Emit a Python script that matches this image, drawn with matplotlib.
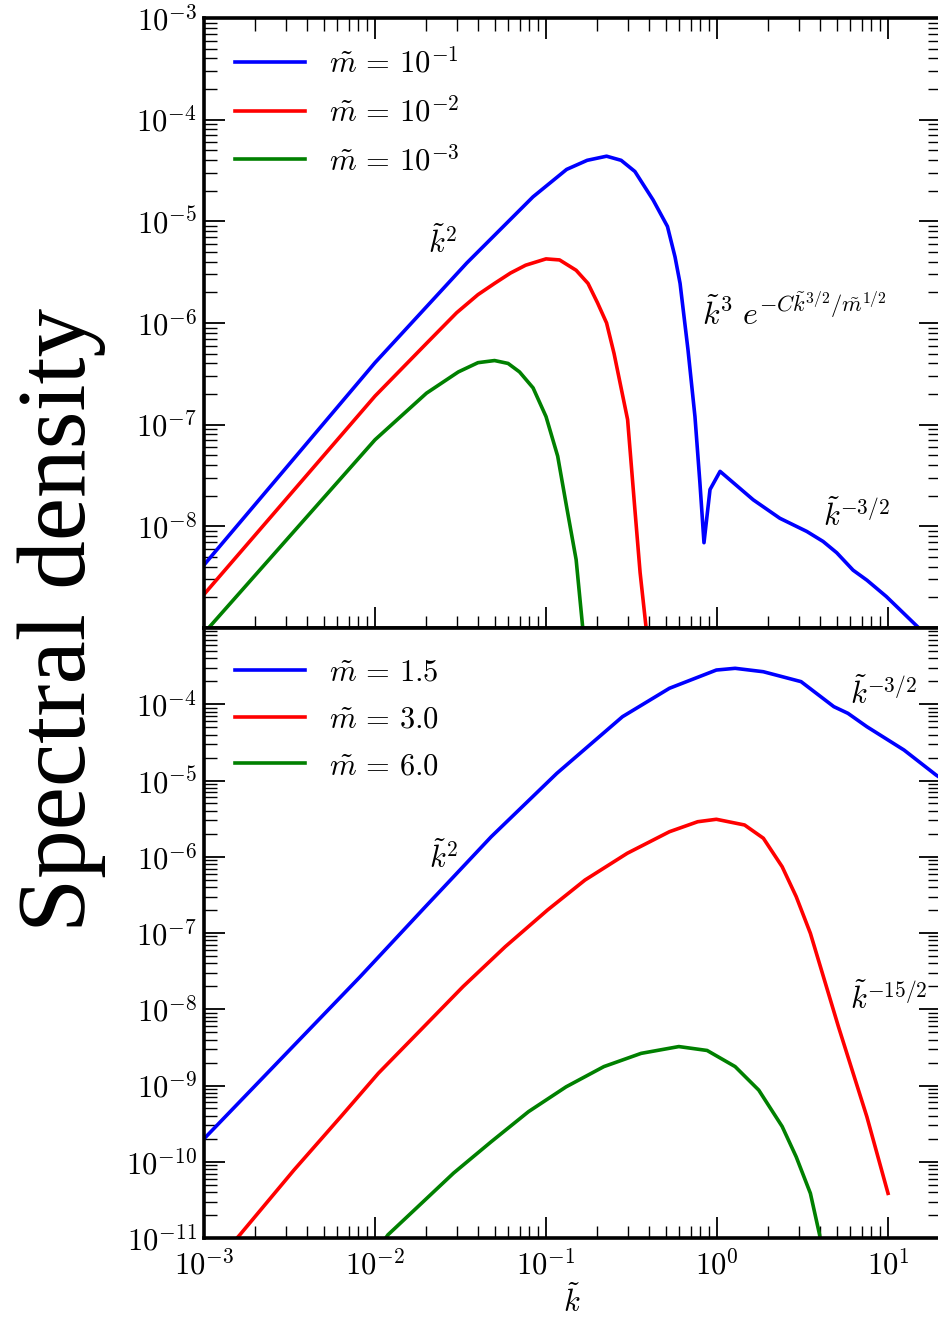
import numpy as np
import matplotlib
matplotlib.use("Agg")
import matplotlib.pyplot as plt
from matplotlib.ticker import LogLocator, FuncFormatter, NullFormatter

plt.rcParams["mathtext.fontset"] = "cm"
plt.rcParams["font.family"] = ["Liberation Serif", "DejaVu Serif"]

# ---- top panel: small masses ----
k_top_1 = [1e-3, 1e-2, 0.0344, 0.0839, 0.132, 0.174, 0.226, 0.275, 0.331, 0.423, 0.513,
           0.568, 0.608, 0.676, 0.743, 0.794, 0.839, 0.910, 1.042, 1.24, 1.63, 2.33,
           3.35, 4.17, 5.01, 6.25, 7.53, 9.77, 14.96, 17.8]
s_top_1 = [4.17e-9, 4.07e-7, 3.89e-6, 1.74e-5, 3.24e-5, 3.98e-5, 4.37e-5, 3.98e-5, 3.09e-5,
           1.62e-5, 8.9e-6, 4.47e-6, 2.45e-6, 5.5e-7, 1.2e-7, 2.7e-8, 6.9e-9, 2.3e-8,
           3.47e-8, 2.7e-8, 1.82e-8, 1.2e-8, 8.9e-9, 7.1e-9, 5.5e-9, 3.7e-9, 2.95e-9,
           2.04e-9, 1.02e-9, 7.9e-10]

k_top_2 = [1e-3, 1e-2, 0.02, 0.03, 0.04, 0.05, 0.062, 0.076, 0.1, 0.12, 0.15, 0.176,
           0.2, 0.226, 0.25, 0.3, 0.33, 0.355, 0.385, 0.4]
s_top_2 = [2.14e-9, 1.91e-7, 6.3e-7, 1.26e-6, 1.9e-6, 2.45e-6, 3.1e-6, 3.7e-6, 4.27e-6,
           4.17e-6, 3.3e-6, 2.45e-6, 1.58e-6, 1.0e-6, 5.0e-7, 1.12e-7, 1.55e-8, 3.5e-9,
           1.0e-9, 5e-10]

k_top_3 = [1e-3, 1e-2, 0.02, 0.0307, 0.04, 0.05, 0.06, 0.07, 0.084, 0.1, 0.117, 0.132,
           0.15, 0.164, 0.17]
s_top_3 = [8.9e-10, 7.1e-8, 2.04e-7, 3.3e-7, 4.07e-7, 4.27e-7, 4.0e-7, 3.3e-7, 2.3e-7,
           1.2e-7, 4.9e-8, 1.55e-8, 4.7e-9, 1.0e-9, 5e-10]

labels_top = [r"$\tilde{m}\,=\,10^{-1}$", r"$\tilde{m}\,=\,10^{-2}$", r"$\tilde{m}\,=\,10^{-3}$"]

# ---- bottom panel: large masses ----
k_bot_1 = [1e-3, 0.00813, 0.0197, 0.0478, 0.1156, 0.28, 0.527, 0.991, 1.276, 1.866,
           3.1, 4.82, 5.83, 7.52, 12.4, 19.1, 20.4]
s_bot_1 = [2.0e-10, 2.63e-8, 2.21e-7, 1.83e-6, 1.24e-5, 6.87e-5, 1.62e-4, 2.81e-4,
           2.96e-4, 2.67e-4, 1.98e-4, 9.3e-5, 7.6e-5, 5.08e-5, 2.51e-5, 1.18e-5, 1.07e-5]

k_bot_2 = [1e-3, 0.00162, 0.00336, 0.00631, 0.01047, 0.0185, 0.0327, 0.0577, 0.102,
           0.169, 0.2985, 0.527, 0.771, 0.991, 1.449, 1.866, 2.404, 2.904, 3.516, 5.13,
           7.52, 10.0]
s_bot_2 = [3.2e-12, 1.1e-11, 7.8e-11, 3.9e-10, 1.45e-9, 5.35e-9, 1.98e-8, 6.6e-8, 2.0e-7,
           4.95e-7, 1.11e-6, 2.13e-6, 2.88e-6, 3.1e-6, 2.61e-6, 1.75e-6, 7.4e-7, 3.0e-7,
           9.9e-8, 5.9e-9, 3.9e-10, 3.85e-11]

k_bot_3 = [0.01, 0.0119, 0.0174, 0.0288, 0.0478, 0.079, 0.131, 0.218, 0.36, 0.598,
           0.875, 1.276, 1.754, 2.404, 2.904, 3.516, 3.98, 4.17]
s_bot_3 = [6.3e-12, 1.1e-11, 2.45e-11, 7.1e-11, 1.83e-10, 4.54e-10, 9.6e-10, 1.77e-9,
           2.64e-9, 3.24e-9, 2.88e-9, 1.77e-9, 8.7e-10, 2.9e-10, 1.16e-10, 3.85e-11,
           1.1e-11, 5e-12]

labels_bot = [r"$\tilde{m}\,=\,1.5$", r"$\tilde{m}\,=\,3.0$", r"$\tilde{m}\,=\,6.0$"]

colours = ["#0000ff", "#ff0000", "#008000"]
FS = 22


def power_formatter(hidden):
    def fmt(v, pos):
        e = int(round(np.log10(v)))
        if e in hidden:
            return ""
        return r"$10^{%d}$" % e
    return FuncFormatter(fmt)


def style_axes(ax, ylim, hidden, top_ticks):
    ax.set_xscale("log")
    ax.set_yscale("log")
    ax.set_xlim(1e-3, 20)
    ax.set_ylim(*ylim)
    for sp in ax.spines.values():
        sp.set_linewidth(2.6)
    for axis in (ax.xaxis, ax.yaxis):
        axis.set_major_locator(LogLocator(base=10, subs=(1.0,), numticks=30))
        axis.set_minor_locator(LogLocator(base=10, subs=np.arange(2, 10), numticks=30))
        axis.set_minor_formatter(NullFormatter())
    ax.yaxis.set_major_formatter(power_formatter(hidden))
    ax.xaxis.set_major_formatter(power_formatter([]))
    ax.tick_params(which="both", direction="in", top=top_ticks, right=True, labelsize=FS)
    ax.tick_params(which="major", length=15, width=1.3)
    ax.tick_params(which="minor", length=9, width=1.0)
    ax.tick_params(axis="y", which="major", pad=5)
    ax.tick_params(axis="x", which="major", pad=9)


fig = plt.figure(figsize=(9.38, 13.19), dpi=100)
ax1 = fig.add_axes([0.2175, 0.5239, 0.7841, 0.46247])
ax2 = fig.add_axes([0.2175, 0.06141, 0.7841, 0.46247])

for k, s, c, lab in zip([k_top_1, k_top_2, k_top_3], [s_top_1, s_top_2, s_top_3], colours, labels_top):
    ax1.plot(k, s, color=c, lw=2.6, label=lab, solid_joinstyle="round")
for k, s, c, lab in zip([k_bot_1, k_bot_2, k_bot_3], [s_bot_1, s_bot_2, s_bot_3], colours, labels_bot):
    ax2.plot(k, s, color=c, lw=2.6, label=lab, solid_joinstyle="round")

style_axes(ax1, (1e-9, 1e-3), [-9], True)
style_axes(ax2, (1e-11, 1e-3), [-3], False)
ax1.tick_params(labelbottom=False)

for ax in (ax1, ax2):
    ax.legend(loc="upper left", frameon=False, fontsize=FS, handlelength=2.3,
              handletextpad=0.8, labelspacing=0.58, borderaxespad=0.5, borderpad=0.5)

# slope annotations
ax1.text(0.0204, 4.9e-6, r"$\tilde{k}^2$", fontsize=FS, ha="left", va="baseline")
ax1.text(0.814, 9.5e-7, r"$\tilde{k}^3\ e^{-C\tilde{k}^{3/2}/\tilde{m}^{1/2}}$",
         fontsize=23, ha="left", va="baseline")
ax1.text(4.15, 1.0e-8, r"$\tilde{k}^{-3/2}$", fontsize=FS, ha="left", va="baseline")
ax2.text(0.0206, 7.1e-7, r"$\tilde{k}^2$", fontsize=FS, ha="left", va="baseline")
ax2.text(6.01, 1.02e-4, r"$\tilde{k}^{-3/2}$", fontsize=FS, ha="left", va="baseline")
ax2.text(6.01, 1.02e-8, r"$\tilde{k}^{-15/2}$", fontsize=FS, ha="left", va="baseline")

ax2.set_xlabel(r"$\tilde{k}$", fontsize=FS, labelpad=3)

fig.text(0.066, 0.530, "Spectral density", rotation=90, fontsize=70,
         ha="center", va="center")

fig.savefig("out.png", dpi=100)
